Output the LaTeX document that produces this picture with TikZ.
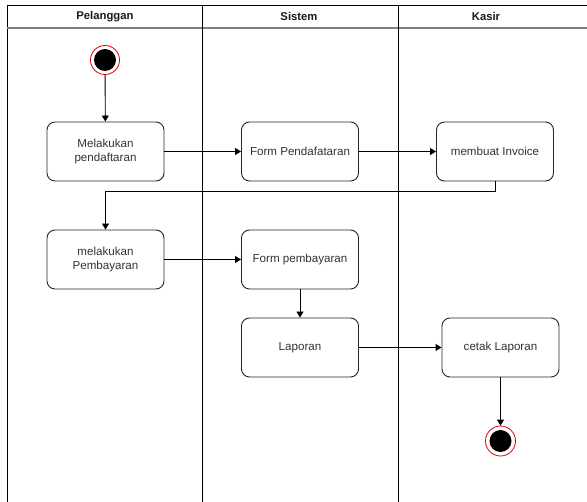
\documentclass[tikz,border=0pt]{standalone}
\usepackage{fontspec}
\setmainfont{Liberation Sans}
\usetikzlibrary{arrows.meta}
\begin{document}
\begin{tikzpicture}[x=1pt,y=-1pt,
  lane/.style={line width=0.9pt,draw=black},
  header/.style={font=\fontsize{11.3}{13}\selectfont\bfseries,text=black!90},
  act/.style={draw=black!85,line width=0.9pt,rounded corners=8pt,fill=white,
    minimum width=117pt,minimum height=59pt,inner sep=2pt,align=center,
    text=black!80,font=\fontsize{11.6}{14}\selectfont},
  flow/.style={draw=black,line width=0.9pt,-{Triangle[length=6pt,width=7pt]}},
  startring/.style={circle,draw=red!90!black,line width=0.8pt,fill=white,
    minimum size=29pt,inner sep=0pt},
  startdot/.style={circle,fill=black,minimum size=22pt,inner sep=0pt}
]
\useasboundingbox (0,0) rectangle (587,502);

% swimlane frame
\draw[lane] (7,502) -- (7,5.3) -- (590,5.3);
\draw[line width=2pt,draw=black!50] (7,27.7) -- (590,27.7);
\draw[lane] (202,5.3) -- (202,502);
\draw[lane] (398,5.3) -- (398,502);

% lane titles
\node[header] (hP) at (105,16.5) {Pelanggan};
\node[header] (hS) at (299,16.5) {Sistem};
\node[header] (hK) at (486,16.5) {Kasir};

% initial node
\node[startring] (start) at (105,60) {};
\node[startdot] at (start) {};

% activities
\node[act] (daftar) at (105.5,151.5) {Melakukan\\pendaftaran};
\node[act] (formD)  at (300,151.5) {Form Pendafataran};
\node[act] (inv)    at (495,151.5) {membuat Invoice};
\node[act] (bayar)  at (105.5,259.5) {melakukan\\Pembayaran};
\node[act] (formB)  at (300,259.5) {Form pembayaran};
\node[act] (lap)    at (300,347.5) {Laporan};
\node[act] (cetak)  at (500.5,347.5) {cetak Laporan};

% final node
\node[startring,minimum size=30pt] (end) at (500.5,441) {};
\node[startdot] at (end) {};

% control flow
\draw[flow] (start) -- (daftar);
\draw[flow] (daftar) -- (formD);
\draw[flow] (formD) -- (inv);
\draw[flow] (inv.south) -- ++(0,10) -| (bayar.north);
\draw[flow] (bayar) -- (formB);
\draw[flow] (formB) -- (lap);
\draw[flow] (lap) -- (cetak);
\draw[flow] (cetak) -- (end);
\end{tikzpicture}
\end{document}
